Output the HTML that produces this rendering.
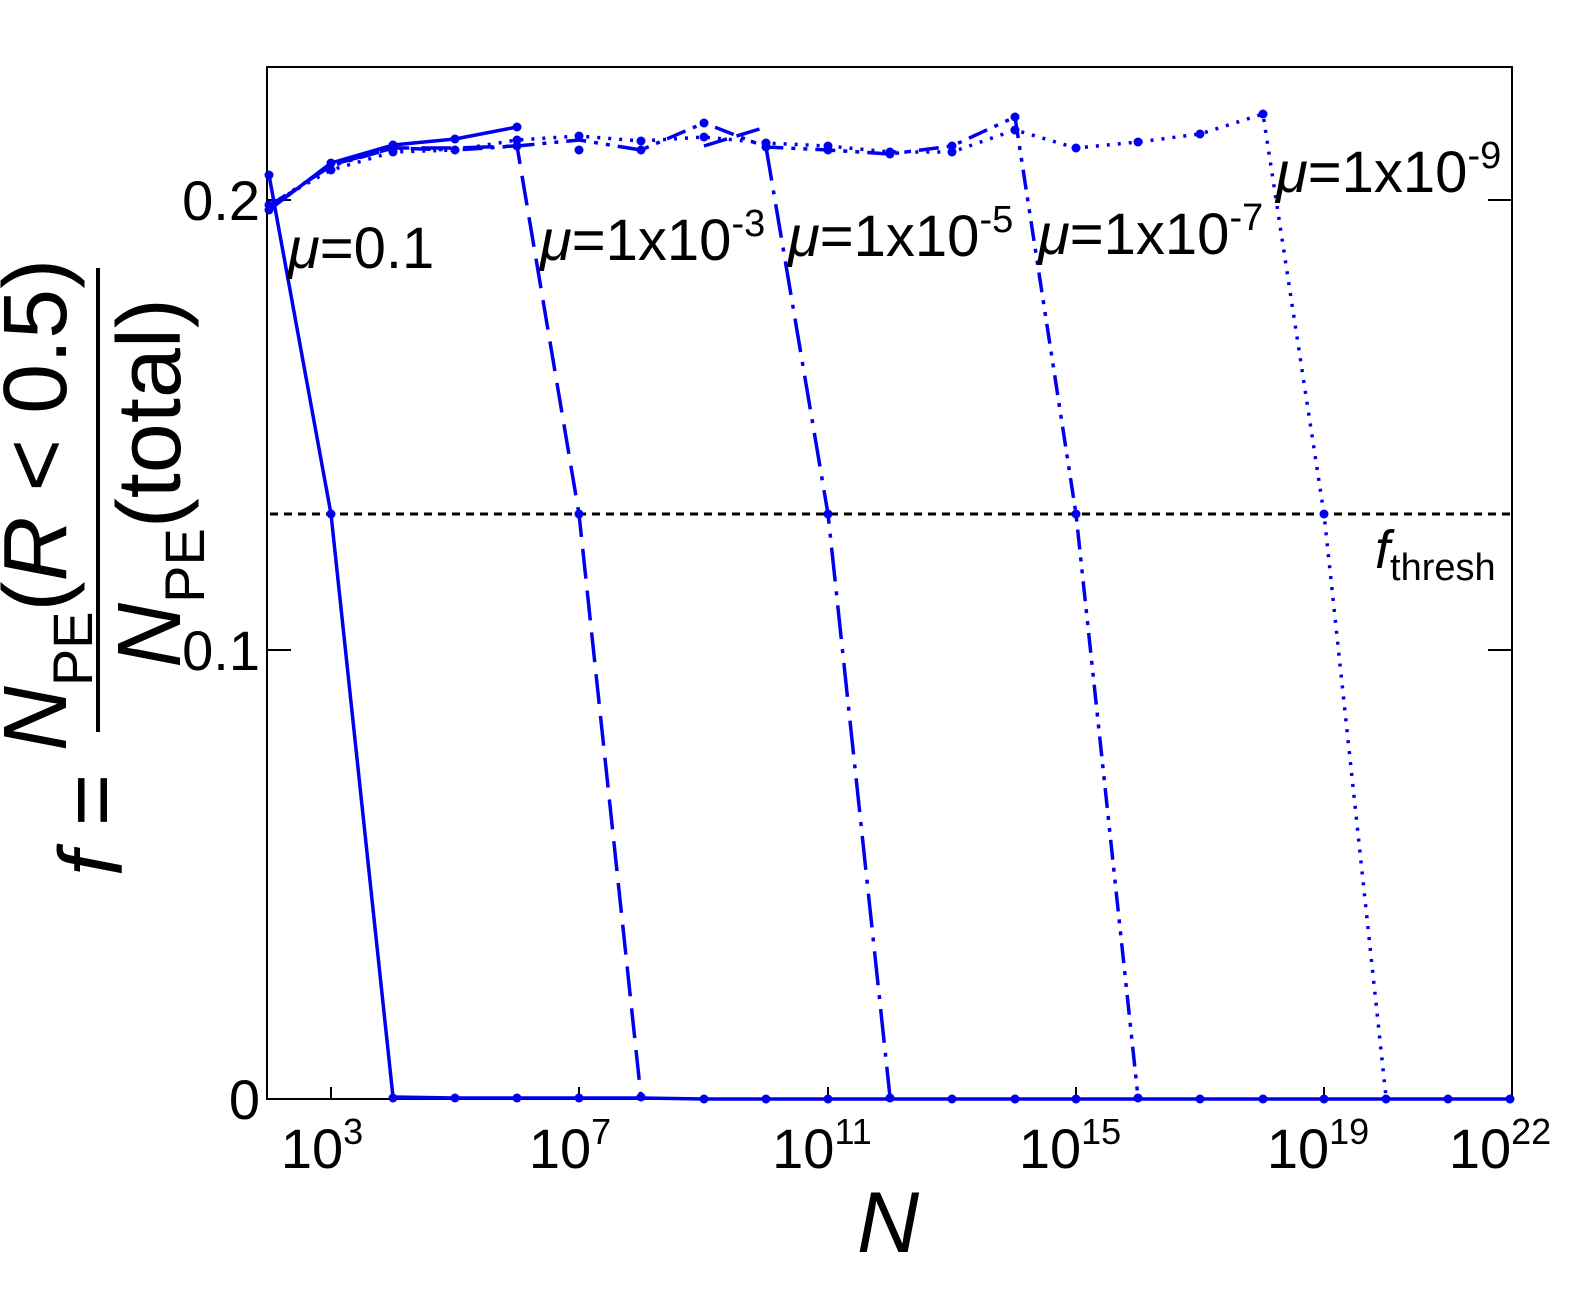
<!DOCTYPE html>
<html><head><meta charset="utf-8"><style>html,body{margin:0;padding:0;background:#fff}svg{display:block}</style></head>
<body>
<svg width="1575" height="1309" viewBox="0 0 1575 1309" xmlns="http://www.w3.org/2000/svg" font-family="Liberation Sans, sans-serif">
<rect width="1575" height="1309" fill="#fff"/>
<rect x="267" y="67" width="1245" height="1032" fill="none" stroke="#000" stroke-width="2"/>
<g stroke="#000" stroke-width="2">
<line x1="267" y1="200" x2="291" y2="200"/><line x1="1488" y1="200" x2="1512" y2="200"/>
<line x1="267" y1="650" x2="291" y2="650"/><line x1="1488" y1="650" x2="1512" y2="650"/>
<line x1="267" y1="1099" x2="291" y2="1099"/>
<line x1="331" y1="1099" x2="331" y2="1087"/><line x1="579" y1="1099" x2="579" y2="1087"/>
<line x1="828" y1="1099" x2="828" y2="1087"/><line x1="1076" y1="1099" x2="1076" y2="1087"/>
<line x1="1324" y1="1099" x2="1324" y2="1087"/>
</g>
<g font-size="56" fill="#000" text-anchor="end">
<text x="260" y="220">0.2</text>
<text x="260" y="670">0.1</text>
<text x="260" y="1119">0</text>
</g>
<g font-size="56" fill="#000" text-anchor="middle">
<text x="322" y="1168">10<tspan font-size="36" dy="-24">3</tspan></text>
<text x="570" y="1168">10<tspan font-size="36" dy="-24">7</tspan></text>
<text x="822" y="1168">10<tspan font-size="36" dy="-24">11</tspan></text>
<text x="1070" y="1168">10<tspan font-size="36" dy="-24">15</tspan></text>
<text x="1318" y="1168">10<tspan font-size="36" dy="-24">19</tspan></text>
<text x="1500" y="1168">10<tspan font-size="36" dy="-24">22</tspan></text>
</g>
<text x="888" y="1252" font-size="86" font-style="italic" text-anchor="middle">N</text>
<g transform="rotate(-90)" font-size="90" fill="#000" text-anchor="middle">
<text x="-505" y="66"><tspan font-style="italic">N</tspan><tspan font-size="56" dy="26">PE</tspan><tspan dy="-26">(</tspan><tspan font-style="italic">R</tspan> &lt; 0.5)</text>
<text x="-483" y="180"><tspan font-style="italic">N</tspan><tspan font-size="56" dy="24">PE</tspan><tspan dy="-24">(total)</tspan></text>
<text x="-825" y="122"><tspan font-style="italic">f</tspan> =</text>
<line x1="-732" y1="98" x2="-268" y2="98" stroke="#000" stroke-width="4"/>
</g>
<line x1="270" y1="514" x2="1512" y2="514" stroke="#000" stroke-width="3" stroke-dasharray="8,6"/>
<text x="1375" y="568" font-size="54" font-style="italic">f<tspan font-style="normal" font-size="38" dy="12">thresh</tspan></text>
<g fill="none" stroke="#0000ee" stroke-width="3.5" stroke-linejoin="round">
<polyline points="269,210 331,163 393,145 455,139 517,127"/>
<polyline points="269,175 331,514 393,1097 455,1098 517,1098 579,1098 641,1098 704,1099 766,1099 828,1099 890,1099 952,1099 1015,1099 1076,1099 1138,1099 1200,1099 1263,1099 1324,1099 1386,1099 1448,1099 1510,1099"/>
<polyline stroke-dasharray="30,12" points="269,208 331,165 393,148 455,148 517,146 579,514 641,1097"/>
<polyline stroke-dasharray="24,10" points="704,146 766,127"/>
<polyline stroke-dasharray="34,10,4,10" points="766,147 828,514 890,1097"/>
<polyline stroke-dasharray="20,8,4,8,4,8" points="269,206 331,166 393,148 455,150 517,146 579,140 641,150 704,123 766,147 828,150 890,154 952,146 1015,117 1076,514 1138,1097"/>
<polyline stroke-dasharray="3,8" points="269,205 331,170 393,152 455,150 517,140 579,136 641,141 704,137 766,143 828,146 890,152 952,152 1015,130 1076,148 1138,142 1200,134 1263,114 1324,514 1386,1097"/>
</g>
<g fill="#0000ee">
<circle cx="269" cy="175" r="4.5"/><circle cx="269" cy="210" r="4.5"/><circle cx="269" cy="205" r="4.5"/>
<circle cx="331" cy="163" r="4.5"/><circle cx="331" cy="170" r="4.5"/><circle cx="393" cy="145" r="4.5"/><circle cx="393" cy="152" r="4.5"/>
<circle cx="455" cy="139" r="4.5"/><circle cx="455" cy="150" r="4.5"/><circle cx="517" cy="127" r="4.5"/><circle cx="517" cy="140" r="4.5"/><circle cx="517" cy="146" r="4.5"/>
<circle cx="579" cy="136" r="4.5"/><circle cx="579" cy="150" r="4.5"/><circle cx="641" cy="141" r="4.5"/><circle cx="641" cy="150" r="4.5"/>
<circle cx="704" cy="123" r="4.5"/><circle cx="704" cy="137" r="4.5"/><circle cx="766" cy="143" r="4.5"/><circle cx="766" cy="147" r="4.5"/>
<circle cx="828" cy="146" r="4.5"/><circle cx="828" cy="150" r="4.5"/><circle cx="890" cy="152" r="4.5"/><circle cx="890" cy="154" r="4.5"/>
<circle cx="952" cy="146" r="4.5"/><circle cx="952" cy="152" r="4.5"/><circle cx="1015" cy="117" r="4.5"/><circle cx="1015" cy="130" r="4.5"/>
<circle cx="1076" cy="148" r="4.5"/><circle cx="1138" cy="142" r="4.5"/><circle cx="1200" cy="134" r="4.5"/><circle cx="1263" cy="114" r="4.5"/>
<circle cx="331" cy="514" r="4.5"/><circle cx="579" cy="514" r="4.5"/><circle cx="828" cy="514" r="4.5"/><circle cx="1076" cy="514" r="4.5"/><circle cx="1324" cy="514" r="4.5"/>
<circle cx="393" cy="1098" r="4.5"/><circle cx="455" cy="1098" r="4.5"/><circle cx="517" cy="1098" r="4.5"/><circle cx="579" cy="1098" r="4.5"/><circle cx="641" cy="1097" r="4.5"/>
<circle cx="704" cy="1099" r="4.5"/><circle cx="766" cy="1099" r="4.5"/><circle cx="828" cy="1099" r="4.5"/><circle cx="890" cy="1098" r="4.5"/><circle cx="952" cy="1099" r="4.5"/>
<circle cx="1015" cy="1099" r="4.5"/><circle cx="1076" cy="1099" r="4.5"/><circle cx="1138" cy="1098" r="4.5"/><circle cx="1200" cy="1099" r="4.5"/><circle cx="1263" cy="1099" r="4.5"/>
<circle cx="1324" cy="1099" r="4.5"/><circle cx="1386" cy="1099" r="4.5"/><circle cx="1448" cy="1099" r="4.5"/><circle cx="1510" cy="1099" r="4.5"/>
</g>
<g font-size="58" fill="#000">
<text x="288" y="268"><tspan font-style="italic">μ</tspan>=0.1</text>
<text x="540" y="260"><tspan font-style="italic">μ</tspan>=1x10<tspan font-size="38" dy="-24">-3</tspan></text>
<text x="788" y="256"><tspan font-style="italic">μ</tspan>=1x10<tspan font-size="38" dy="-24">-5</tspan></text>
<text x="1038" y="254"><tspan font-style="italic">μ</tspan>=1x10<tspan font-size="38" dy="-24">-7</tspan></text>
<text x="1276" y="192"><tspan font-style="italic">μ</tspan>=1x10<tspan font-size="38" dy="-24">-9</tspan></text>
</g>
</svg>
</body></html>
